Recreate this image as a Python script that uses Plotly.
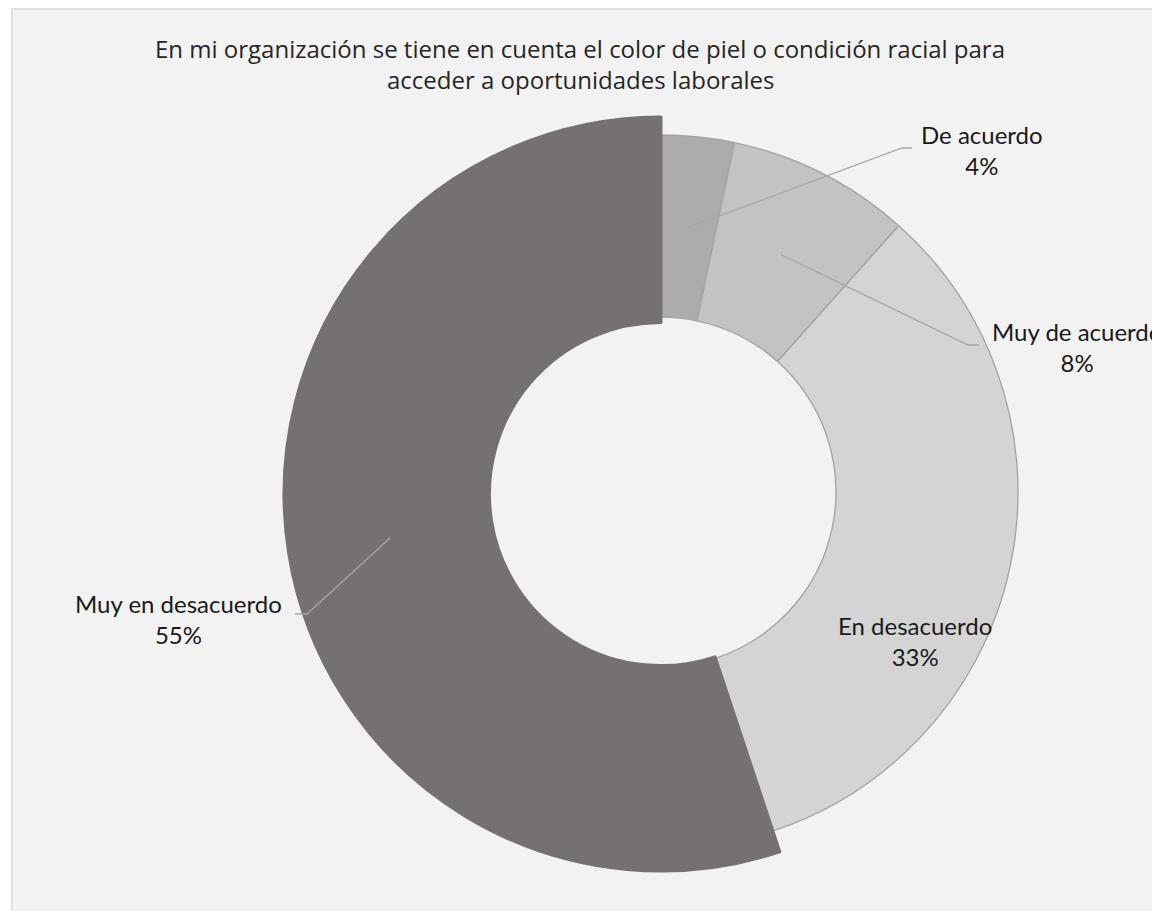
import math
import plotly.graph_objects as go

# survey answers, clockwise from 12 o'clock
labels = ["De acuerdo", "Muy de acuerdo", "En desacuerdo", "Muy en desacuerdo"]
values = [3.3, 8.3, 33.3, 55.1]
pct_text = ["4%", "8%", "33%", "55%"]
gray_colors = ["#acacac", "#c3c3c3", "#d4d4d4", "rgba(0,0,0,0)"]
dark_colors = ["rgba(0,0,0,0)", "rgba(0,0,0,0)", "rgba(0,0,0,0)", "#767171"]

title_lines = ["En mi organización se tiene en cuenta el color de piel o condición racial para",
               "acceder a oportunidades laborales"]

# page body has an 8px margin, so the figure is drawn 8px in from the corner
OFF = 8
W, H = 1144, 903

# ring geometry (page pixels): light ring and the bigger dark slice on top
g_cx, g_cy, g_r, g_hole = 661, 492, 357, 0.49
d_cx, d_cy, d_r, d_hole = 661, 494, 377, 0.455


def px(x, y):
    return (x - OFF) / W, 1 - (y - OFF) / H


def dom(cx, cy, r):
    x0, y0 = px(cx - r, cy + r)
    x1, y1 = px(cx + r, cy - r)
    return dict(x=[x0, x1], y=[y0, y1])


fig = go.Figure()

fig.add_trace(go.Pie(
    labels=labels, values=values, sort=False, direction="clockwise",
    hole=g_hole, domain=dom(g_cx, g_cy, g_r),
    marker=dict(colors=gray_colors, line=dict(color="#a3a3a3", width=[1.3, 1.3, 1.3, 0])),
    textinfo="none", hoverinfo="label+percent", showlegend=False,
))

fig.add_trace(go.Pie(
    labels=labels, values=values, sort=False, direction="clockwise",
    hole=d_hole, domain=dom(d_cx, d_cy, d_r),
    marker=dict(colors=dark_colors, line=dict(color="#767171", width=[0, 0, 0, 3])),
    textinfo="none", hoverinfo="label+percent", showlegend=False,
))

# background panel
x0, y1 = px(12, 9)
fig.add_shape(type="rect", xref="paper", yref="paper", x0=x0, x1=1.05, y0=-0.05, y1=y1,
              fillcolor="#f2f2f2", line=dict(color="#d9d9d9", width=1.5), layer="below")

# label positions (page pixels, centre of the two-line block) and leader-line elbows
label_pos = {"De acuerdo": (982, 150), "Muy de acuerdo": (1077, 347),
             "En desacuerdo": (915, 641), "Muy en desacuerdo": (178, 619)}
elbows = {"De acuerdo": [(902, 148), (912, 148)],
          "Muy de acuerdo": [(968, 345), (979, 345)],
          "Muy en desacuerdo": [(307, 614), (295, 614)]}

total = sum(values)
cum = 0
for lab, v, t in zip(labels, values, pct_text):
    mid = (cum + v / 2) / total * 2 * math.pi
    cum += v
    if lab == "Muy en desacuerdo":
        cx, cy, rm = d_cx, d_cy, d_r * (1 + d_hole) / 2
    else:
        cx, cy, rm = g_cx, g_cy, g_r * (1 + g_hole) / 2
    sx, sy = cx + rm * math.sin(mid), cy - rm * math.cos(mid)
    if lab in elbows:
        pts = [(sx, sy)] + elbows[lab]
        path = "M " + " L ".join("%f,%f" % px(x, y) for x, y in pts)
        fig.add_shape(type="path", xref="paper", yref="paper", path=path,
                      line=dict(color="#a6a6a6", width=1.3), layer="above")
    lx, ly = label_pos[lab]
    ax, ay = px(lx, ly)
    fig.add_annotation(x=ax, y=ay, xref="paper", yref="paper", text=lab + "<br>" + t,
                       showarrow=False, xanchor="center", yanchor="middle", align="center",
                       font=dict(family="Lato", size=24, color="#1a1a1a"))

for i, line in enumerate(title_lines):
    tx, ty = px(580, 48 + 32 * i)
    fig.add_annotation(x=tx, y=ty, xref="paper", yref="paper", text=line, showarrow=False,
                       xanchor="center", yanchor="middle",
                       font=dict(family="Open Sans", size=24, color="#262626"))

fig.update_layout(width=W, height=H, margin=dict(l=0, r=0, t=0, b=0),
                  paper_bgcolor="white", plot_bgcolor="white")

fig.write_html("out.html")
